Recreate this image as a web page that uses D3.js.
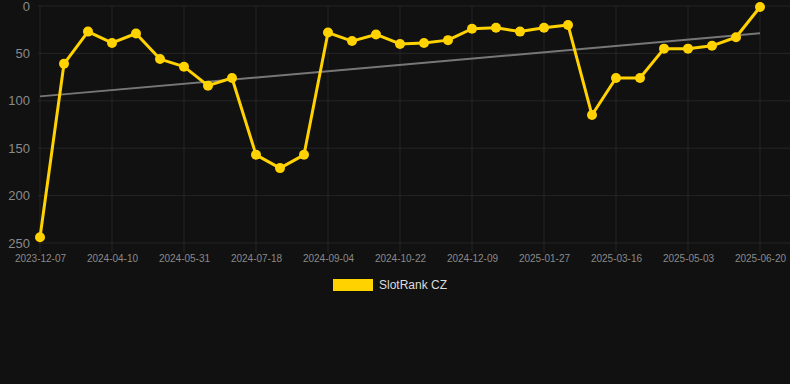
<!DOCTYPE html>
<html>
<head>
<meta charset="utf-8">
<script src="https://cdn.jsdelivr.net/npm/d3@7"></script>
<style>
  html, body { margin: 0; padding: 0; background: #111111; }
  svg { display: block; }
</style>
</head>
<body>
<svg id="chart" width="790" height="384"></svg>
<script>
// Rank per sample (lower is better)
const rankValues = [244, 61, 27, 39, 29, 56, 64, 84, 76, 157, 171, 157, 28, 37, 30, 40,
                    39, 36, 24, 23, 27, 23, 20, 115, 76, 76, 45, 45, 42, 33, 1];
// Labels shown on the x axis, one every third sample
const tickLabels = ["2023-12-07", "2024-04-10", "2024-05-31", "2024-07-18", "2024-09-04",
                    "2024-10-22", "2024-12-09", "2025-01-27", "2025-03-16", "2025-05-03", "2025-06-20"];
const yTicks = [0, 50, 100, 150, 200, 250];
const seriesName = "SlotRank CZ";

const svg = d3.select("#chart");
const width = 790;
const margin = { top: 6, right: 30, bottom: 141, left: 40 };
const plotBottom = 384 - margin.bottom;

const idx = d3.range(rankValues.length);

// x: evenly spaced samples
const xScale = d3.scaleLinear()
    .domain([0, rankValues.length - 1])
    .range([margin.left, width - margin.right]);

// y: inverted, rank 0 on top
const yScale = d3.scaleLinear()
    .domain([0, 250])
    .range([margin.top, plotBottom]);

// Grid lines
const grid = svg.append("g");
grid.selectAll("line.h")
    .data(yTicks)
    .enter().append("line")
    .attr("x1", margin.left - 2)
    .attr("x2", width)
    .attr("y1", d => yScale(d))
    .attr("y2", d => yScale(d))
    .attr("stroke", "#252525")
    .attr("stroke-width", 1);

const tickIdx = tickLabels.map((d, i) => i * 3);
grid.selectAll("line.v")
    .data(tickIdx)
    .enter().append("line")
    .attr("x1", d => xScale(d))
    .attr("x2", d => xScale(d))
    .attr("y1", margin.top)
    .attr("y2", plotBottom + 10)
    .attr("stroke", "#252525")
    .attr("stroke-width", 1);

// Y axis labels
const yAxis = d3.axisLeft(yScale)
    .tickValues(yTicks)
    .tickSize(0)
    .tickPadding(10);

svg.append("g")
    .attr("transform", `translate(${margin.left},0)`)
    .call(yAxis)
    .call(g => g.select(".domain").remove())
    .selectAll("text")
    .style("font-size", "13px")
    .style("font-family", "Arial, 'Liberation Sans', sans-serif")
    .attr("fill", "#8a8a8a");

// X axis labels
const xAxis = d3.axisBottom(xScale)
    .tickValues(tickIdx)
    .tickFormat((d, i) => tickLabels[i])
    .tickSize(0)
    .tickPadding(12);

svg.append("g")
    .attr("transform", `translate(0,${plotBottom})`)
    .call(xAxis)
    .call(g => g.select(".domain").remove())
    .selectAll("text")
    .style("font-size", "10px")
    .style("font-family", "Arial, 'Liberation Sans', sans-serif")
    .attr("fill", "#8a8a8a");

// Trend line (least squares fit of the series)
const meanX = d3.mean(idx);
const meanY = d3.mean(rankValues);
const slope = d3.sum(idx, i => (i - meanX) * (rankValues[i] - meanY)) /
              d3.sum(idx, i => (i - meanX) * (i - meanX));
const intercept = meanY - slope * meanX;
const lastIdx = rankValues.length - 1;

svg.append("line")
    .attr("x1", xScale(0))
    .attr("y1", yScale(intercept))
    .attr("x2", xScale(lastIdx))
    .attr("y2", yScale(intercept + slope * lastIdx))
    .attr("stroke", "#777777")
    .attr("stroke-width", 2);

// Series line
const line = d3.line()
    .x(i => xScale(i))
    .y(i => yScale(rankValues[i]));

svg.append("path")
    .datum(idx)
    .attr("d", line)
    .attr("fill", "none")
    .attr("stroke", "#ffd200")
    .attr("stroke-width", 3)
    .attr("stroke-linejoin", "round");

svg.selectAll("circle.pt")
    .data(idx)
    .enter().append("circle")
    .attr("cx", i => xScale(i))
    .attr("cy", i => yScale(rankValues[i]))
    .attr("r", 5)
    .attr("fill", "#ffd200");

// Legend
const legend = svg.append("g").attr("transform", "translate(333,279)");
legend.append("rect")
    .attr("width", 40)
    .attr("height", 12)
    .attr("fill", "#ffd200");
legend.append("text")
    .attr("x", 46)
    .attr("y", 6)
    .attr("dy", "0.35em")
    .text(seriesName)
    .style("font-size", "12px")
    .style("font-family", "Arial, 'Liberation Sans', sans-serif")
    .attr("fill", "#dddddd");
</script>
</body>
</html>
